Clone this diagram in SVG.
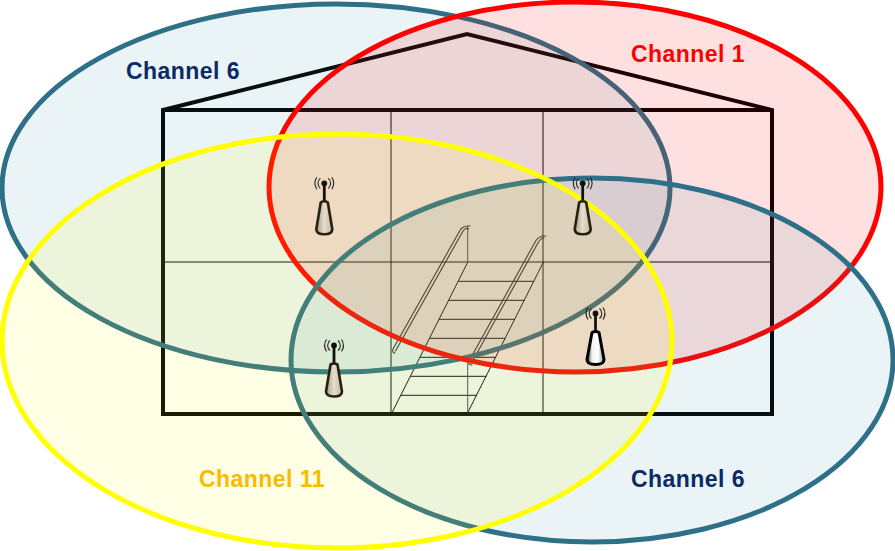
<svg xmlns="http://www.w3.org/2000/svg" width="895" height="551" viewBox="0 0 895 551">
<style>
.house{fill:none;stroke:#000;stroke-width:4;stroke-linejoin:miter}
.grid{fill:none;stroke:#000;stroke-width:1}
.stair{fill:none;stroke:#000;stroke-width:1}
.post{fill:none;stroke:#444;stroke-width:1}
.rail{fill:none;stroke:#222;stroke-width:1.1;stroke-linecap:round}
.zone{stroke-width:5}
.t{fill:#31859c;fill-opacity:.1;stroke:#2e7087}
.lab{font:bold 23px "Liberation Sans",Arial,sans-serif;text-anchor:middle;letter-spacing:.45px}
.wave{fill:none;stroke:#222;stroke-width:1.1}
.stem{stroke:#111;stroke-width:2.8;fill:none}
.body1{fill:url(#cream);stroke:#2a2010;stroke-width:2.6;stroke-linejoin:round}
.body2{fill:url(#white);stroke:#000;stroke-width:3;stroke-linejoin:round}
</style>
<defs>
<linearGradient id="cream"><stop offset="0" stop-color="#a89e84"/><stop offset=".5" stop-color="#e6dfcc"/><stop offset="1" stop-color="#c0b79f"/></linearGradient>
<linearGradient id="white"><stop offset="0" stop-color="#333"/><stop offset=".3" stop-color="#f4f4f4"/><stop offset=".65" stop-color="#fff"/><stop offset="1" stop-color="#999"/></linearGradient>
<g id="wv">
<path class="wave" d="M-4-5a6.500 6.500 0 0 0 0 10M4-5a6.500 6.500 0 0 1 0 10M-7.500-6a11 11 0 0 0 0 12M7.500-6a11 11 0 0 1 0 12"/>
<circle r="2.900" fill="#111"/>
<path class="stem" d="M0 0V19"/>
</g>
<g id="ap"><use href="#wv"/><path class="body1" d="M-3.500 19Q0 17 3.500 19L8 46Q8 51 0 51Q-8 51-8 46Z"/></g>
<g id="apw"><use href="#wv"/><path class="body2" d="M-3.500 19Q0 17 3.500 19L8.500 46Q8.500 51 0 51Q-8.500 51-8.500 46Z"/></g>
</defs>
<rect width="895" height="551" fill="#fff"/>
<g id="house">
<path class="house" d="M163 110L467 34L772 110V414H163Z"/>
<path class="house" d="M163 110H772"/>
<path class="grid" d="M391 110V414M543 110V414M163 262H772"/>
</g>
<g id="stairs">
<path class="stair" d="M392 412.700L467.700 262.300M467.700 412.700L543.300 262.300M400.800 395.300H476.700M410.400 376.300H486.300M419.900 357.300H495.800M429.500 338.300H505.400M439 319.300H514.900M448.600 300.300H524.500M458.200 281.300H534.100"/>
<path class="post" d="M467.700 226.700V262.300M467.700 363V412.700"/>
<path class="rail" d="M393 349L460.500 229.500Q463.500 225.500 470 226M395.500 351L463 231Q466 227 468.500 229M393 349Q392 353 395 353"/>
<path class="rail" d="M469 361L536 240.500Q539 235.500 546 236M471.500 363L538.500 242Q541 238 544 238M469 361Q468 365 472 365"/>
</g>
<g id="zones">
<ellipse id="zone-teal-top" class="zone t" cx="336" cy="188" rx="334" ry="184"/>
<ellipse id="zone-red" class="zone" cx="575" cy="187" rx="306" ry="185" fill="#ff0000" fill-opacity=".12" stroke="#ff0000"/>
<ellipse id="zone-teal-bottom" class="zone t" cx="592" cy="360" rx="301" ry="182"/>
<ellipse id="zone-yellow" class="zone" cx="337" cy="341" rx="335" ry="207" fill="#ffff00" fill-opacity=".1" stroke="#ffff00"/>
</g>
<g id="aps">
<use href="#ap" x="324.300" y="183.300"/>
<use href="#ap" x="582.700" y="183.300"/>
<use href="#ap" x="334" y="345.500"/>
<use href="#apw" x="595.500" y="313.500"/>
</g>
<g id="labels">
<text class="lab" x="183" y="79" fill="#0b2a66">Channel 6</text>
<text class="lab" x="688" y="62" fill="#ff0000">Channel 1</text>
<text class="lab" x="262" y="487" fill="#f9bb00">Channel 11</text>
<text class="lab" x="688" y="487" fill="#0b2a66">Channel 6</text>
</g>
</svg>
